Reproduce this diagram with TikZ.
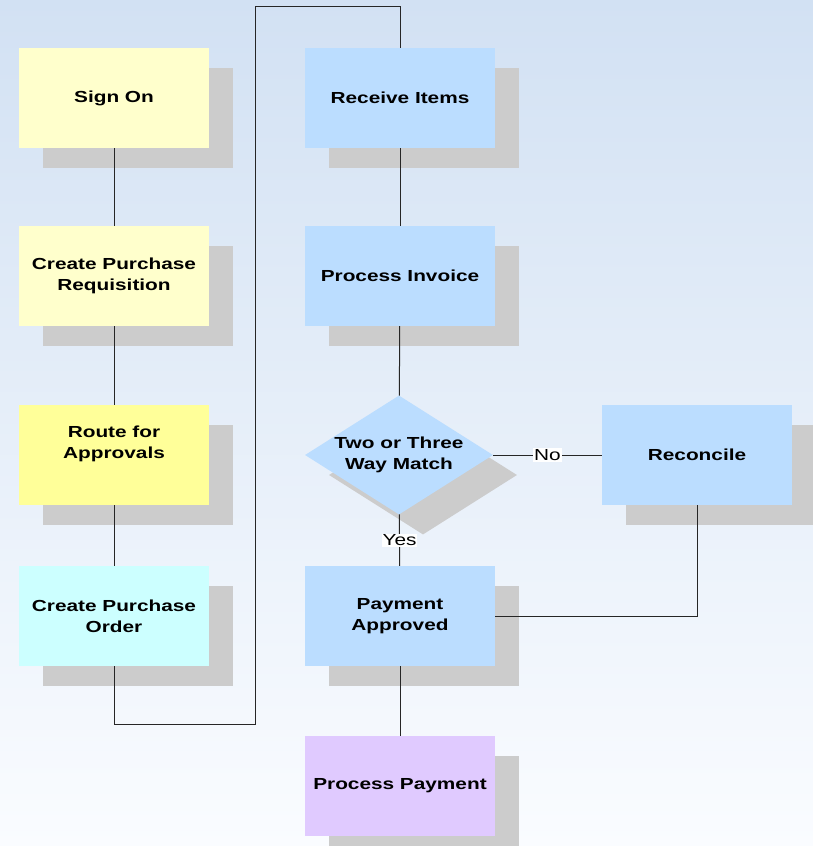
\documentclass[tikz,border=0pt]{standalone}
\usepackage{fontspec}
\setmainfont{Liberation Sans}[FakeStretch=1.3]
\usetikzlibrary{shapes.geometric,shadows}
\definecolor{bgtop}{HTML}{D2E1F3}
\definecolor{bgbottom}{HTML}{FAFCFF}
\definecolor{shadowgray}{HTML}{CCCCCC}
\definecolor{paleyellow}{HTML}{FFFFCC}
\definecolor{brightyellow}{HTML}{FFFF99}
\definecolor{palecyan}{HTML}{CCFFFF}
\definecolor{paleblue}{HTML}{BBDDFF}
\definecolor{lavender}{HTML}{E0CAFF}
\tikzset{
  boxshadow/.style={drop shadow={shadow xshift=24pt, shadow yshift=-20pt, fill=shadowgray, opacity=1}},
  boxtext/.style={align=center, font=\fontsize{16}{21}\selectfont\bfseries},
  procbox/.style={rectangle, minimum width=190pt, minimum height=100pt, inner sep=0pt,
    boxtext, boxshadow},
  decision/.style={diamond, minimum width=188pt, minimum height=119pt, aspect=1.58, inner sep=0pt,
    boxtext, boxshadow},
  link/.style={draw=black!85, line width=1pt},
  lbl/.style={fill=white, inner sep=1pt, font=\fontsize{16}{19}\selectfont}
}

\begin{document}
\begin{tikzpicture}[x=1pt, y=-1pt]
% background
\shade[top color=bgtop, bottom color=bgbottom] (0,0) rectangle (813,846);
\useasboundingbox (0,0) rectangle (813,846);
% left column
\node[procbox, fill=paleyellow] (signon) at (114,98) {Sign On};
\node[procbox, fill=paleyellow] (requis) at (114,276) {Create Purchase\\Requisition};
\node[procbox, fill=brightyellow, label={[boxtext, yshift=11pt]center:Route for\\Approvals}] (route) at (114,455) {};
\node[procbox, fill=palecyan] (order) at (114,616) {Create Purchase\\Order};
% right column
\node[procbox, fill=paleblue] (receive) at (400,98) {Receive Items};
\node[procbox, fill=paleblue] (invoice) at (400,276) {Process Invoice};
\node[decision, fill=paleblue] (match) at (399,455) {Two or Three\\Way Match};
\node[procbox, fill=paleblue] (reconcile) at (697,455) {Reconcile};
\node[procbox, fill=paleblue] (payok) at (400,616) {Payment\\Approved};
\node[procbox, fill=lavender] (payment) at (400,786) {Process Payment};
% connectors
\coordinate (turnlow) at (255,724);
\coordinate (turnhigh) at (255,6);
\draw[link] (signon) -- (requis);
\draw[link] (requis) -- (route);
\draw[link] (route) -- (order);
\draw[link] (order.south) |- (turnlow) -- (turnhigh) -| (receive.north);
\draw[link] (receive) -- (invoice);
\draw[link] (invoice) -- (match);
\draw[link] (match) -- node[lbl] {No} (reconcile);
\draw[link] (match) -- node[lbl] {Yes} (payok);
\draw[link] (reconcile.south) |- (payok.east);
\draw[link] (payok) -- (payment);
\end{tikzpicture}
\end{document}
